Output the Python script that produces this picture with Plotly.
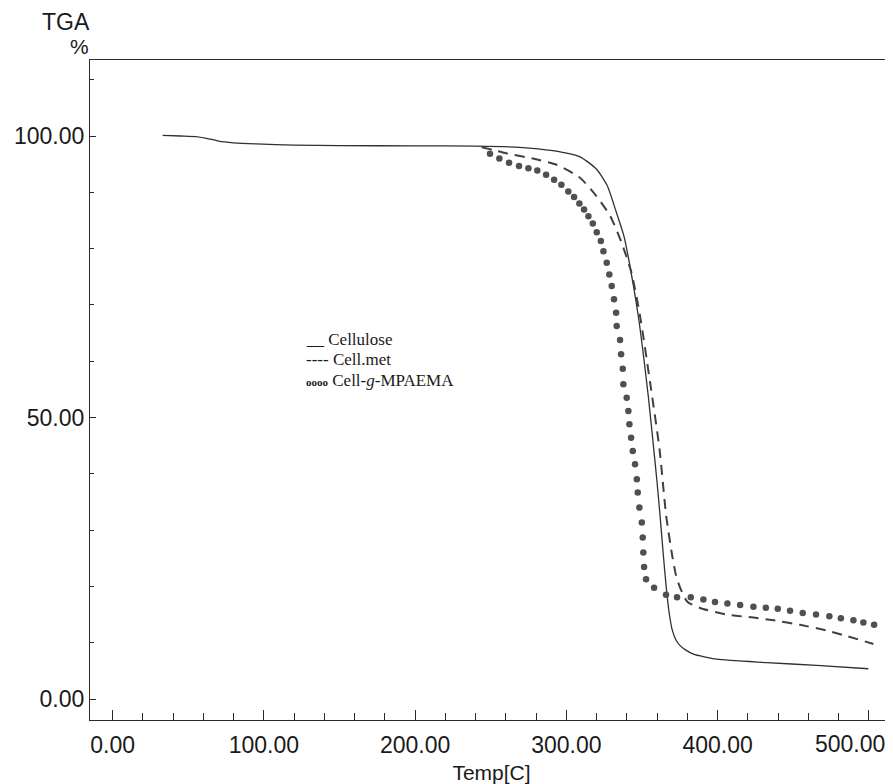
import plotly.graph_objects as go

# ---------------- data ----------------
cellulose_T = [33, 45, 55, 62, 70, 80, 95, 120, 150, 200, 240, 269, 291, 309, 320, 327,
               333, 338, 342, 347.6, 351, 354.3, 357, 359.8, 362, 364, 366, 368, 370,
               372.5, 375.2, 379, 384, 399.5, 432.5, 465.6, 499.7]
cellulose_W = [100.1, 100.0, 99.9, 99.6, 99.1, 98.8, 98.6, 98.4, 98.3, 98.25, 98.2, 98.0,
               97.4, 96.3, 94.1, 91.2, 86.5, 82.3, 77.0, 68.0, 61.0, 53.5, 46.5, 39.0,
               32.5, 26.0, 20.0, 15.3, 12.3, 10.5, 9.5, 8.7, 8.0, 7.1, 6.5, 6.0, 5.4]

cellmet_T = [244, 252, 260.6, 278, 293.6, 309, 320, 329, 336.6, 343, 348.7, 355.4, 361.6,
             366, 370, 372.5, 375.2, 380, 388.4, 406, 423.7, 437, 454.5, 472, 485.5, 503]
cellmet_W = [98.0, 97.5, 96.9, 96.0, 94.9, 92.6, 89.3, 85.8, 81.0, 75.8, 68.1, 56.2, 44.4,
             32.6, 25.5, 22.0, 19.8, 17.3, 16.2, 15.0, 14.5, 14.0, 13.2, 12.2, 11.2, 9.8]

graft_T = [249.5, 255.7, 262.1, 268.7, 274.9, 280.8, 286.6, 291.9, 296.7, 301.3, 305.1,
           308.6, 311.7, 314.6, 317.5, 320.1, 322.8, 324.5, 326.7, 328.4, 330.0, 331.5,
           332.9, 333.3, 335.5, 336.2, 337.3, 337.7, 339.9, 341.0, 341.7, 342.8, 343.9,
           345.4, 346.6, 347.2, 348.3, 349.9, 350.5, 350.9, 351.4, 352.7, 358.0, 365.9,
           373.2, 382.3, 390.6, 398.3, 406.5, 414.9, 423.7, 431.9, 439.8, 447.9, 456.3,
           465.1, 473.9, 481.5, 489.8, 496.4, 503.5]
graft_W = [96.87, 96.0, 95.25, 94.67, 94.26, 93.86, 93.11, 92.23, 91.36, 90.17, 89.17,
           88.0, 86.94, 85.76, 84.47, 82.93, 81.34, 79.56, 77.49, 75.43, 73.36, 71.0,
           68.62, 66.26, 63.78, 61.24, 58.69, 55.91, 53.54, 51.18, 48.82, 46.44, 44.08,
           41.72, 39.06, 36.68, 34.02, 31.36, 28.70, 26.03, 23.49, 21.31, 19.78, 18.55,
           18.09, 18.10, 17.71, 17.25, 16.98, 16.70, 16.41, 16.25, 16.04, 15.70, 15.31,
           15.02, 14.74, 14.35, 14.01, 13.61, 13.20]

x_ticks = [0, 100, 200, 300, 400, 500]
x_tick_labels = ["0.00", "100.00", "200.00", "300.00", "400.00", "500.00"]
y_ticks = [0, 50, 100]
y_tick_labels = ["0.00", "50.00", "100.00"]
x_title = "Temp[C]"
y_title_1 = "TGA"
y_title_2 = "%"
series_names = ["Cellulose", "Cell.met", "Cell-<i>g</i>-MPAEMA"]

# ---------------- figure ----------------
AX = "#2a2a2a"
SANS = "Liberation Sans, Arial, sans-serif"
SERIF = "Liberation Serif, Times New Roman, serif"
TXT = "#1a1a1a"

# the last x label sits at the window edge: it is drawn as an annotation nudged
# left so that it stays fully inside the picture, as in the reference
x_text = list(x_tick_labels)
x_text[-1] = ""

fig = go.Figure()
fig.add_trace(go.Scatter(x=cellulose_T, y=cellulose_W, mode="lines", name=series_names[0],
                         line=dict(color="#303030", width=1.3, shape="spline", smoothing=0.6),
                         showlegend=False))
fig.add_trace(go.Scatter(x=cellmet_T, y=cellmet_W, mode="lines", name=series_names[1],
                         line=dict(color="#404040", width=2, dash="10px,7px", shape="spline",
                                   smoothing=0.6),
                         showlegend=False))
fig.add_trace(go.Scatter(x=graft_T, y=graft_W, mode="markers", name=series_names[2],
                         marker=dict(color="#505050", size=6.5, line=dict(width=0)),
                         showlegend=False))

# the page body has an 8px margin, so the figure is sized/offset to fill the window
fig.update_layout(
    width=885, height=776,
    margin=dict(l=82, r=0, t=52, b=64),
    paper_bgcolor="white", plot_bgcolor="white",
    font=dict(family=SANS, color=TXT),
    xaxis=dict(range=[-15, 516], tickvals=x_ticks, ticktext=x_text,
               ticks="inside", ticklen=10, tickwidth=1, tickcolor=AX,
               showline=True, linecolor=AX, linewidth=1.3, mirror=True,
               showgrid=False, zeroline=False,
               tickfont=dict(size=23, family=SANS, color=TXT),
               ticklabelstandoff=4,
               minor=dict(dtick=20, tick0=0, ticks="inside", ticklen=7, tickcolor=AX,
                          tickwidth=1, showgrid=False),
               title=dict(text=x_title, font=dict(size=21, family=SANS, color=TXT),
                          standoff=8),
               automargin=False),
    yaxis=dict(range=[-3.7, 113.5], tickvals=y_ticks, ticktext=y_tick_labels,
               ticks="inside", ticklen=6, tickwidth=1, tickcolor=AX,
               showline=True, linecolor=AX, linewidth=1.3, mirror=False,
               showgrid=False, zeroline=False,
               tickfont=dict(size=23, family=SANS, color=TXT),
               minor=dict(dtick=10, tick0=0, ticks="inside", ticklen=4, tickcolor=AX,
                          tickwidth=1, showgrid=False),
               automargin=False),
)

# helpers converting window pixel positions of the plot area (90..893, 60..720) to paper
def px(xp):
    return (xp - 90) / 803.0

def py(yp):
    return (720 - yp) / 660.0

fig.add_annotation(text=x_tick_labels[-1], xref="x", yref="paper", x=x_ticks[-1], y=py(744),
                   xshift=-19, showarrow=False, xanchor="center", yanchor="middle",
                   font=dict(size=23, family=SANS, color=TXT))

fig.add_annotation(text=y_title_1, xref="paper", yref="paper", x=px(66), y=py(22),
                   showarrow=False, font=dict(size=23, family=SANS, color=TXT),
                   xanchor="center", yanchor="middle")
fig.add_annotation(text=y_title_2, xref="paper", yref="paper", x=px(79), y=py(47),
                   showarrow=False, font=dict(size=21, family=SANS, color=TXT),
                   xanchor="center", yanchor="middle")

legend_lines = ["__ " + series_names[0],
                "---- " + series_names[1],
                "<b><span style='font-size:11px'>oooo</span></b> " + series_names[2]]
legend_y = [339, 359, 380]
for txt, yy in zip(legend_lines, legend_y):
    fig.add_annotation(text=txt, xref="paper", yref="paper", x=px(304), y=py(yy),
                       showarrow=False, xanchor="left", yanchor="middle",
                       font=dict(size=17, family=SERIF, color=TXT))

fig.write_html("out.html")
